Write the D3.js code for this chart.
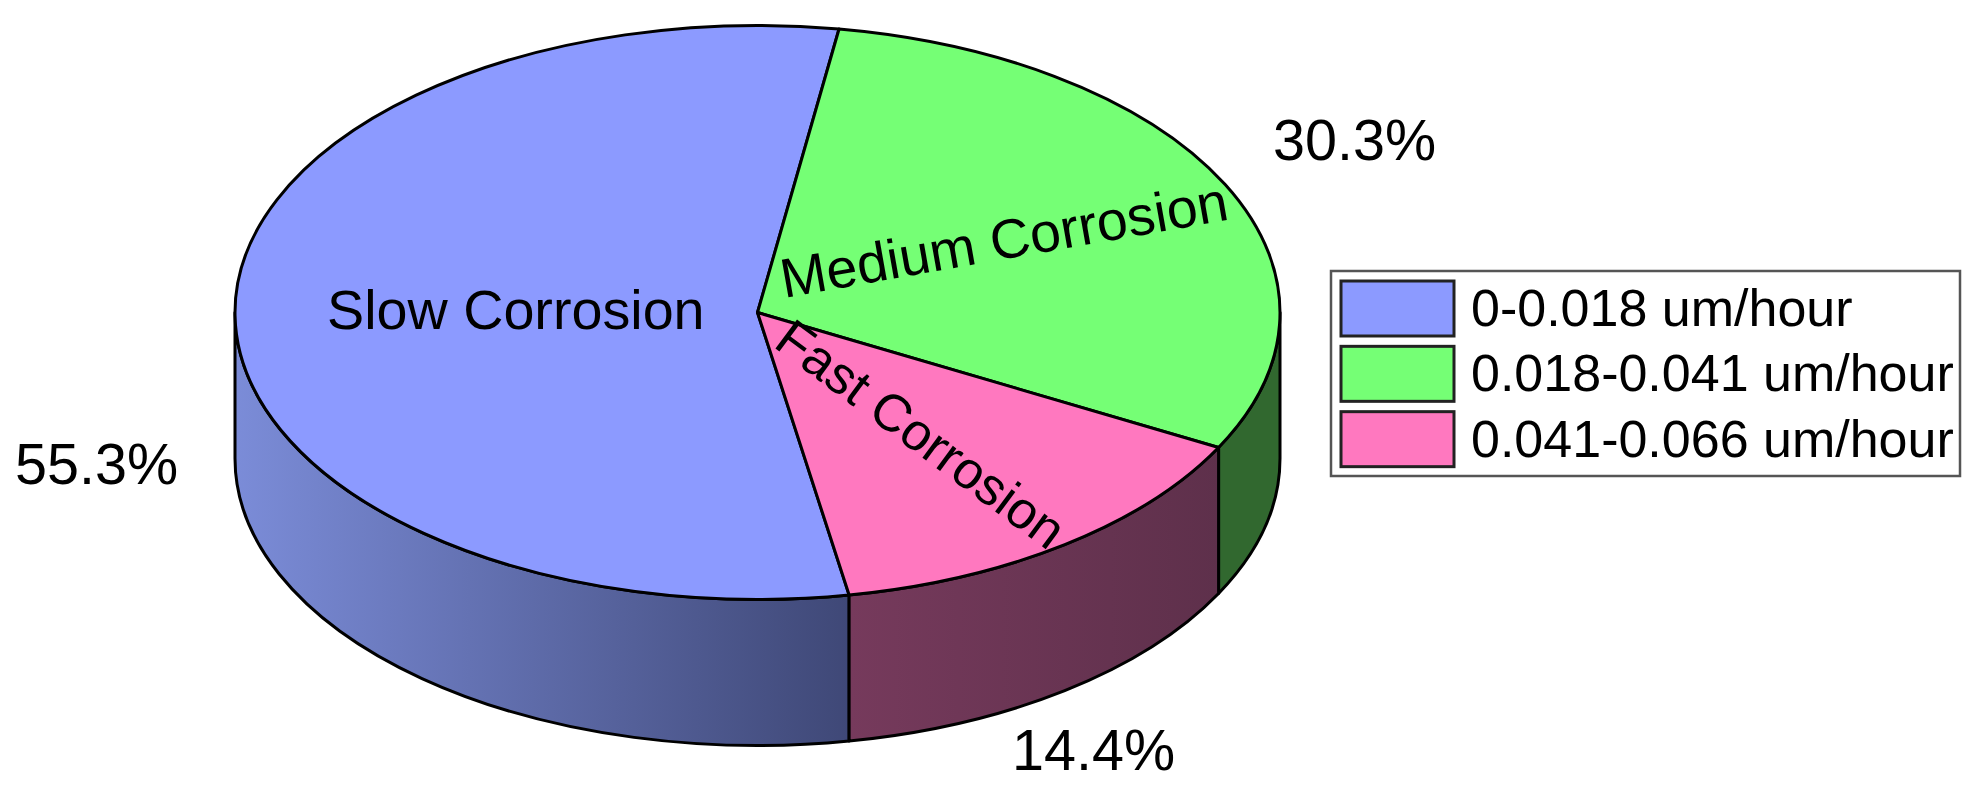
<!DOCTYPE html>
<html lang="en">
<head>
<meta charset="utf-8">
<script src="https://cdn.jsdelivr.net/npm/d3@7/dist/d3.min.js"></script>
<style>
body { margin: 0; background: #fff; }
text { font-family: "Liberation Sans", Arial, sans-serif; fill: #000; }
</style>
<title>Corrosion rate pie</title>
</head>
<body>
<script>
// values
var shares = [55.3, 30.3, 14.4];
var shareLabels = ["55.3%", "30.3%", "14.4%"];
var sliceNames = ["Slow Corrosion", "Medium Corrosion", "Fast Corrosion"];
var legendLabels = ["0-0.018 um/hour", "0.018-0.041 um/hour", "0.041-0.066 um/hour"];
var topColors = ["#8c9aff", "#75ff75", "#ff78bf"];
var wallLeft = ["#7b8cd8", "#31682f", "#763a5c"];
var wallRight = ["#3f4877", "#31682f", "#5e304b"];

var w = 1972, h = 797;
var cx = 757.5, cy = 312.5, rx = 522.5, ry = 287, depth = 146;
var firstAngle = 169.9 * Math.PI / 180;

var svg = d3.select("body").append("svg")
  .attr("width", w).attr("height", h)
  .style("display", "block");

// unit circle -> squashed top face
var xScale = d3.scaleLinear().domain([-1, 1]).range([cx - rx, cx + rx]);
var yScale = d3.scaleLinear().domain([-1, 1]).range([cy - ry, cy + ry]);
var px = function(a) { return xScale(Math.sin(a)); };
var py = function(a) { return yScale(-Math.cos(a)); };

var pie = d3.pie().sort(null).startAngle(firstAngle).endAngle(firstAngle + 2 * Math.PI);
var slices = pie(shares);

var defs = svg.append("defs");
slices.forEach(function(s, i) {
  var g = defs.append("linearGradient").attr("id", "wall" + i);
  g.append("stop").attr("offset", "0%").attr("stop-color", wallLeft[i]);
  g.append("stop").attr("offset", "100%").attr("stop-color", wallRight[i]);
});

// side wall, only the part facing the viewer (90 to 270 deg clockwise from top)
function wallPath(a0, a1) {
  var x0 = px(a0), x1 = px(a1), y0 = py(a0), y1 = py(a1);
  return "M" + x0 + "," + y0 +
    "A" + rx + "," + ry + " 0 0 1 " + x1 + "," + y1 +
    "L" + x1 + "," + (y1 + depth) +
    "A" + rx + "," + ry + " 0 0 0 " + x0 + "," + (y0 + depth) + "Z";
}

var front = [Math.PI / 2, 3 * Math.PI / 2];
slices.forEach(function(s, i) {
  [0, 2 * Math.PI].forEach(function(turn) {
    var a0 = Math.max(s.startAngle - turn, front[0]);
    var a1 = Math.min(s.endAngle - turn, front[1]);
    if (a1 <= a0) return;
    svg.append("path")
      .attr("d", wallPath(a0, a1))
      .attr("fill", "url(#wall" + i + ")")
      .attr("stroke", "#000")
      .attr("stroke-width", 3)
      .attr("stroke-linejoin", "round");
  });
});

// top face
var arc = d3.arc().innerRadius(0).outerRadius(rx);
svg.append("g")
  .attr("transform", "translate(" + cx + "," + cy + ") scale(1," + (ry / rx) + ")")
  .selectAll("path")
  .data(slices)
  .enter()
  .append("path")
  .attr("d", arc)
  .attr("fill", function(d, i) { return topColors[i]; })
  .attr("stroke", "#000")
  .attr("stroke-width", 3)
  .attr("stroke-linejoin", "round")
  .attr("vector-effect", "non-scaling-stroke");

// names on the slices
var namePlace = [[327, 329, 0, 55.7], [784, 298, -10, 55.5], [772, 346, 36.6, 52.5]];
svg.selectAll("text.name")
  .data(sliceNames)
  .enter()
  .append("text")
  .attr("class", "name")
  .attr("transform", function(d, i) {
    return "translate(" + namePlace[i][0] + "," + namePlace[i][1] + ") rotate(" + namePlace[i][2] + ")";
  })
  .style("font-size", function(d, i) { return namePlace[i][3] + "px"; })
  .text(function(d) { return d; });

// percent labels
var pctPlace = [[15, 484], [1273, 160], [1012, 770]];
svg.selectAll("text.pct")
  .data(shareLabels)
  .enter()
  .append("text")
  .attr("class", "pct")
  .attr("x", function(d, i) { return pctPlace[i][0]; })
  .attr("y", function(d, i) { return pctPlace[i][1]; })
  .style("font-size", "57.5px")
  .text(function(d) { return d; });

// legend
var legend = svg.append("g");
legend.append("rect")
  .attr("x", 1331).attr("y", 271)
  .attr("width", 629).attr("height", 205)
  .attr("fill", "#fff")
  .attr("stroke", "#555")
  .attr("stroke-width", 2.5);

var rowY = d3.scaleBand().domain(d3.range(legendLabels.length)).range([276, 472]);

var rows = legend.selectAll("g.row")
  .data(legendLabels)
  .enter()
  .append("g")
  .attr("class", "row")
  .attr("transform", function(d, i) { return "translate(0," + rowY(i) + ")"; });

rows.append("rect")
  .attr("x", 1341).attr("y", 5)
  .attr("width", 113).attr("height", 55)
  .attr("fill", function(d, i) { return topColors[i]; })
  .attr("stroke", "#222")
  .attr("stroke-width", 3);

rows.append("text")
  .attr("x", 1471).attr("y", 50)
  .style("font-size", "52px")
  .text(function(d) { return d; });
</script>
</body>
</html>
